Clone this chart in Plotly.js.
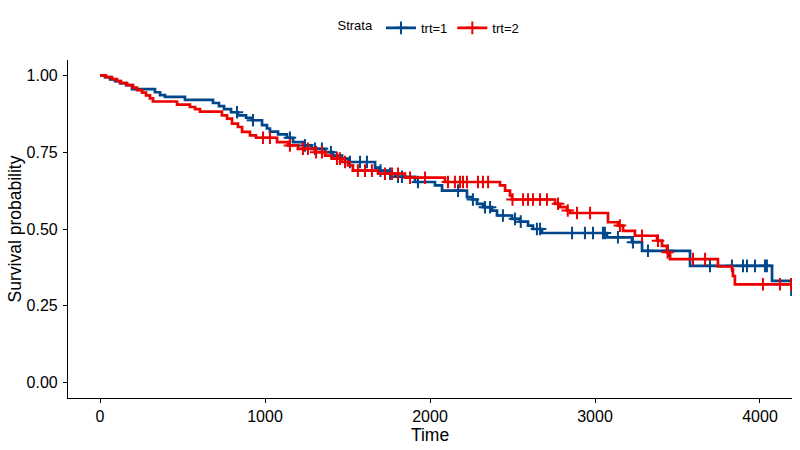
<!DOCTYPE html>
<html>
<head>
<meta charset="utf-8">
<script src="https://cdn.plot.ly/plotly-3.0.1.min.js"></script>
<style>html,body{margin:0;padding:0;background:#fff;}#chart{width:800px;height:450px;}</style>
</head>
<body>
<div id="chart"></div>
<script>
// trt=1 step times and survival after each step
var trt1Times = [0,30,61,91,121,158,194,333,364,394,515,685,721,752,794,836,885,921,982,1012,1030,1079,1133,1170,1230,1285,1364,1412,1467,1503,1667,1697,1745,1788,1909,2030,2073,2224,2255,2285,2321,2376,2406,2497,2545,2594,2624,2679,3073,3224,3285,3576,4073,4191];
var trt1Surv  = [1.0,0.994,0.987,0.981,0.975,0.968,0.955,0.945,0.936,0.930,0.920,0.910,0.900,0.890,0.880,0.870,0.862,0.854,0.838,0.827,0.817,0.808,0.797,0.783,0.772,0.761,0.750,0.739,0.729,0.718,0.700,0.690,0.680,0.670,0.653,0.642,0.625,0.604,0.596,0.582,0.571,0.560,0.544,0.533,0.524,0.511,0.500,0.487,0.473,0.457,0.429,0.380,0.331,0.282];
var trt1Censor = [830,927,1151,1242,1303,1345,1400,1515,1576,1618,1700,1758,1806,1830,1927,2170,2260,2333,2364,2442,2515,2550,2648,2667,2861,2939,2988,3048,3060,3139,3230,3321,3442,3697,3830,3897,3921,3970,4030,4042];

// trt=2
var trt2Times = [0,36,73,103,127,164,200,224,255,279,303,321,467,545,576,606,739,770,800,836,861,909,945,1073,1139,1200,1303,1364,1406,1467,1503,1533,1685,1848,2091,2424,2455,2485,2497,2758,2788,2830,2848,3079,3139,3170,3242,3376,3406,3436,3455,3745,3830,3836,3848];
var trt2Surv  = [1.0,0.994,0.988,0.981,0.975,0.968,0.960,0.952,0.944,0.935,0.925,0.915,0.905,0.897,0.890,0.882,0.870,0.859,0.843,0.832,0.816,0.805,0.797,0.783,0.772,0.761,0.750,0.739,0.729,0.718,0.707,0.690,0.680,0.667,0.653,0.642,0.625,0.609,0.596,0.582,0.571,0.560,0.552,0.522,0.511,0.494,0.478,0.462,0.445,0.424,0.402,0.378,0.369,0.347,0.320];
var trt2Censor = [988,1030,1151,1230,1260,1310,1345,1436,1454,1485,1563,1606,1648,1727,1770,1806,1879,1970,2109,2151,2182,2200,2224,2291,2321,2352,2500,2564,2594,2624,2667,2709,2776,2835,2891,2970,3151,3285,3382,3440,3594,3667,4018,4121,4188];

var strataNames = ["trt=1","trt=2"];
var strataColors = ["#00468B","#ED0000"];
var xTickVals = [0,1000,2000,3000,4000];
var yTickVals = [0,0.25,0.5,0.75,1];
var yTickText = ['0.00','0.25','0.50','0.75','1.00'];

function survAt(times, surv, t){
  var s = surv[0];
  for (var i=0;i<times.length;i++){ if (times[i] <= t) s = surv[i]; else break; }
  return s;
}

var groups = [
  {t:trt1Times, s:trt1Surv, c:trt1Censor},
  {t:trt2Times, s:trt2Surv, c:trt2Censor}
];

var traces = [];
groups.forEach(function(g, k){
  var lx = g.t.slice(), ly = g.s.slice();
  var lastC = g.c[g.c.length-1];
  if (lastC > lx[lx.length-1]) { lx.push(lastC); ly.push(survAt(g.t, g.s, lastC)); }
  traces.push({x:lx, y:ly, type:'scatter', mode:'lines', line:{shape:'hv', color:strataColors[k], width:2.7}, showlegend:false, hoverinfo:'skip'});
  traces.push({x:g.c, y:g.c.map(function(t){return survAt(g.t, g.s, t);}), type:'scatter', mode:'markers',
    marker:{symbol:'cross-thin', size:9, color:strataColors[k], line:{color:strataColors[k], width:2}}, showlegend:false, hoverinfo:'skip'});
  traces.push({x:[null], y:[null], type:'scatter', mode:'lines+markers', name:strataNames[k],
    line:{color:strataColors[k], width:2.7}, marker:{symbol:'cross-thin', size:9, color:strataColors[k], line:{color:strataColors[k], width:2}}});
});

var layout = {
  width:800, height:450,
  margin:{l:68, r:8, t:60, b:52},
  paper_bgcolor:'#fff', plot_bgcolor:'#fff',
  font:{family:'Liberation Sans, Arial, sans-serif', color:'#000'},
  showlegend:true,
  legend:{orientation:'h', x:0.5, xanchor:'center', y:1.095, yanchor:'middle',
    title:{text:'Strata', side:'left', font:{size:13}}, font:{size:13}, itemwidth:30, tracegroupgap:0},
  xaxis:{range:[-194,4194], tickvals:xTickVals, ticktext:xTickVals.map(String),
    showgrid:false, zeroline:false, showline:true, linecolor:'#000', linewidth:1.1,
    ticks:'outside', ticklen:4, tickwidth:1, tickcolor:'#000', tickfont:{size:16, color:'#000'},
    title:{text:'Time', font:{size:17.5}, standoff:2}},
  yaxis:{range:[-0.05,1.05], tickvals:yTickVals, ticktext:yTickText,
    showgrid:false, zeroline:false, showline:true, linecolor:'#000', linewidth:1.1,
    ticks:'outside', ticklen:4, tickwidth:1, tickcolor:'#000', tickfont:{size:16, color:'#000'},
    ticklabelstandoff:2,
    title:{text:'Survival probability', font:{size:17.5}, standoff:0}}
};

Plotly.newPlot('chart', traces, layout, {staticPlot:true});
</script>
</body>
</html>
